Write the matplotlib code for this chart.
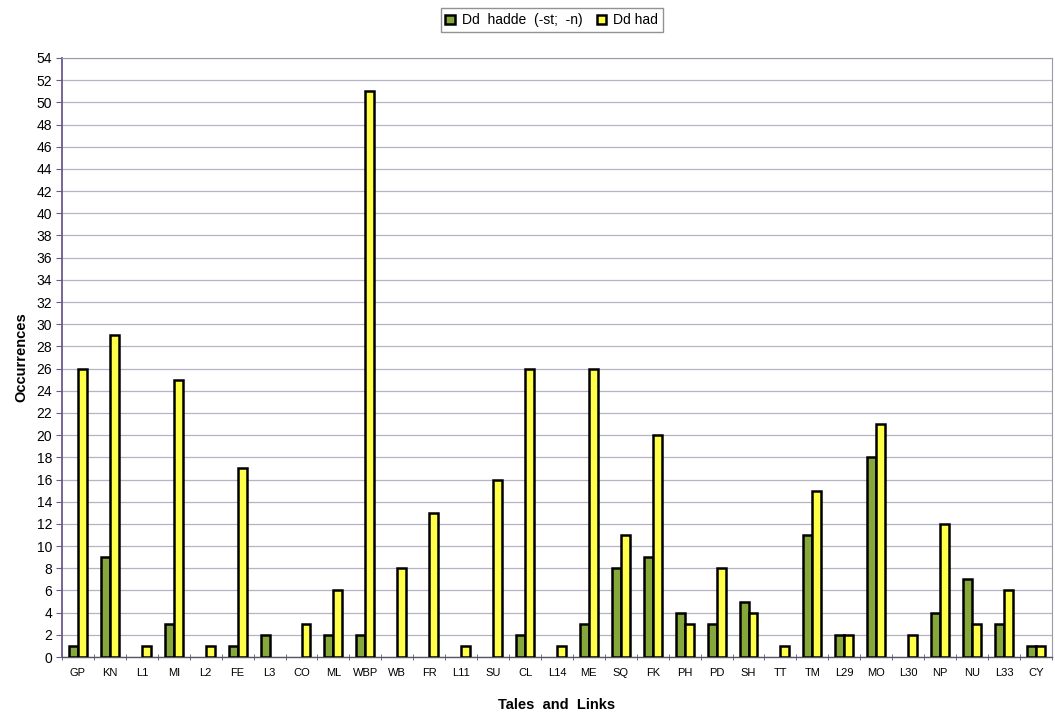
import matplotlib.pyplot as plt
import numpy as np

plt.rcParams['font.family'] = ['Liberation Sans', 'DejaVu Sans']

# data
tales = ['GP', 'KN', 'L1', 'MI', 'L2', 'FE', 'L3', 'CO', 'ML', 'WBP', 'WB',
         'FR', 'L11', 'SU', 'CL', 'L14', 'ME', 'SQ', 'FK', 'PH', 'PD', 'SH',
         'TT', 'TM', 'L29', 'MO', 'L30', 'NP', 'NU', 'L33', 'CY']
hadde = [1, 9, 0, 3, 0, 1, 2, 0, 2, 2, 0,
         0, 0, 0, 2, 0, 3, 8, 9, 4, 3, 5,
         0, 11, 2, 18, 0, 4, 7, 3, 1]
had = [26, 29, 1, 25, 1, 17, 0, 3, 6, 51, 8,
       13, 1, 16, 26, 1, 26, 11, 20, 3, 8, 4,
       1, 15, 2, 21, 2, 12, 3, 6, 1]
series_names = ['Dd  hadde  (-st;  -n)', 'Dd had']

green = '#86a83a'
yellow = '#ffff4a'

fig = plt.figure(figsize=(10.55, 7.14), dpi=100)
ax = fig.add_axes([0.0588, 0.0798, 0.9382, 0.839])

x = np.arange(len(tales))
w = 0.28
# no outline on empty bars
ec1 = ['black' if v > 0 else 'none' for v in hadde]
ec2 = ['black' if v > 0 else 'none' for v in had]
b1 = ax.bar(x - w / 2, hadde, w, color=green, edgecolor=ec1, linewidth=1.8,
            label=series_names[0], zorder=3)
b2 = ax.bar(x + w / 2, had, w, color=yellow, edgecolor=ec2, linewidth=1.8,
            label=series_names[1], zorder=3)

ax.set_xlim(-0.5, len(tales) - 0.5)
ax.set_ylim(0, 54)
ax.set_yticks(range(0, 55, 2))
ax.set_xticks(x)
ax.set_xticklabels(tales, fontsize=8)
ax.set_xticks(np.arange(-0.5, len(tales), 1), minor=True)
ax.tick_params(axis='x', which='major', length=0, pad=8)
ax.tick_params(axis='x', which='minor', length=4, direction='inout', color='#555566')
ax.tick_params(axis='y', labelsize=10, length=4, color='#6a5a8a', pad=3)

ax.yaxis.grid(True, color='#b4b4c4', linewidth=0.9, zorder=0)
ax.set_axisbelow(True)

ax.spines['left'].set_color('#6a5a8a')
ax.spines['left'].set_linewidth(1.3)
ax.spines['bottom'].set_color('#555566')
ax.spines['bottom'].set_linewidth(1.0)
ax.spines['top'].set_color('#9a9aaa')
ax.spines['right'].set_color('#9a9aaa')

ax.set_ylabel('Occurrences', fontsize=10.5, fontweight='bold', labelpad=6)
ax.set_xlabel('Tales  and  Links', fontsize=10.5, fontweight='bold', labelpad=14)

leg = fig.legend(handles=[b1, b2], loc='upper center', bbox_to_anchor=(0.523, 0.998),
                 ncol=2, fontsize=10, frameon=True, fancybox=False,
                 handlelength=0.7, handleheight=0.7, handletextpad=0.5,
                 columnspacing=1.0, borderpad=0.35)
leg.get_frame().set_edgecolor('#777777')
leg.get_frame().set_linewidth(1.0)
for h in leg.legend_handles:
    h.set_edgecolor('black')

fig.savefig('out.png', dpi=100)
